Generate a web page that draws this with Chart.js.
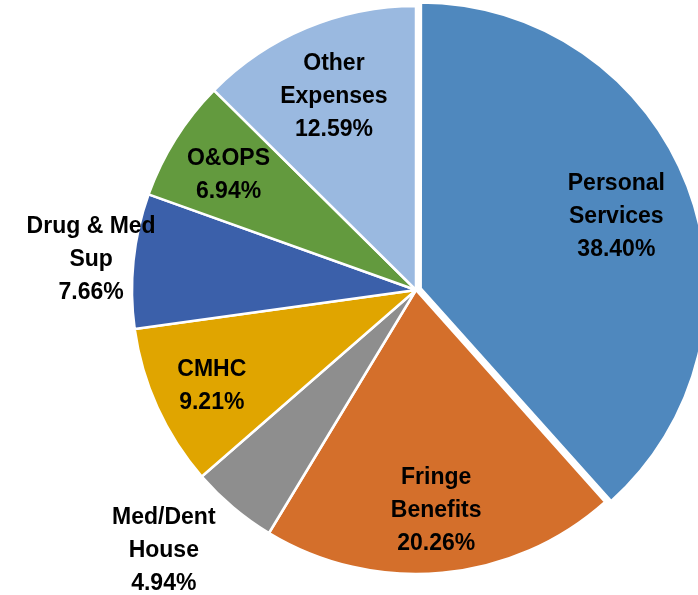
<!DOCTYPE html>
<html>
<head>
<meta charset="utf-8">
<script src="https://cdn.jsdelivr.net/npm/chart.js@4.4.1/dist/chart.umd.min.js"></script>
<style>
  html, body { margin: 0; padding: 0; background: #fff; overflow: hidden; }
  #wrap { width: 698px; height: 595px; }
</style>
</head>
<body>
<div id="wrap"><canvas id="gastosChart" width="698" height="595"></canvas></div>
<script>
// datos del grafico
const categorias = [
    ["Personal", "Services"],
    ["Fringe", "Benefits"],
    ["Med/Dent", "House"],
    ["CMHC"],
    ["Drug & Med", "Sup"],
    ["O&OPS"],
    ["Other", "Expenses"]
];
const porcentajes = [38.40, 20.26, 4.94, 9.21, 7.66, 6.94, 12.59];

// estilos
const colores = ["#4F88BE", "#D46F2B", "#8E8E8E", "#E0A500", "#3B60AA", "#639A3E", "#9AB9E0"];
const desplazamiento = [20, 0, 0, 0, 0, 0, 0];
// [factor de radio, giro en grados] para cada etiqueta
const posEtiquetas = [
    [0.755, 0], [0.77, 0], [1.27, 4.3], [0.79, 0], [1.15, 0], [0.78, 0], [0.75, 0]
];

// etiquetas dibujadas sobre cada porcion
const etiquetasPlugin = {
    id: "etiquetas",
    afterDatasetsDraw(chart) {
        const ctx = chart.ctx;
        const meta = chart.getDatasetMeta(0);
        ctx.save();
        ctx.font = "bold 23px 'Liberation Sans', Arial, sans-serif";
        ctx.fillStyle = "#000";
        ctx.textAlign = "center";
        ctx.textBaseline = "middle";
        meta.data.forEach((arc, i) => {
            const p = arc.getProps(["x", "y", "startAngle", "endAngle", "outerRadius"], true);
            const ang = (p.startAngle + p.endAngle) / 2 + posEtiquetas[i][1] * Math.PI / 180;
            const r = p.outerRadius * posEtiquetas[i][0];
            const cx = p.x + Math.cos(ang) * r;
            const cy = p.y + Math.sin(ang) * r + 3;
            const lineas = categorias[i].concat([porcentajes[i].toFixed(2) + "%"]);
            const alto = 33;
            const y0 = cy - (lineas.length - 1) * alto / 2;
            lineas.forEach((t, k) => ctx.fillText(t, cx, y0 + k * alto));
        });
        ctx.restore();
    }
};

new Chart(document.getElementById("gastosChart"), {
    type: "pie",
    data: {
        labels: categorias.map(c => c.join(" ")),
        datasets: [{
            data: porcentajes,
            backgroundColor: colores,
            borderColor: "#ffffff",
            borderWidth: 2.5,
            offset: desplazamiento
        }]
    },
    options: {
        responsive: false,
        animation: false,
        radius: 284,
        layout: { padding: { left: 134, right: 0, top: 0, bottom: 15 } },
        plugins: {
            legend: { display: false },
            tooltip: { enabled: false }
        }
    },
    plugins: [etiquetasPlugin]
});
</script>
</body>
</html>
